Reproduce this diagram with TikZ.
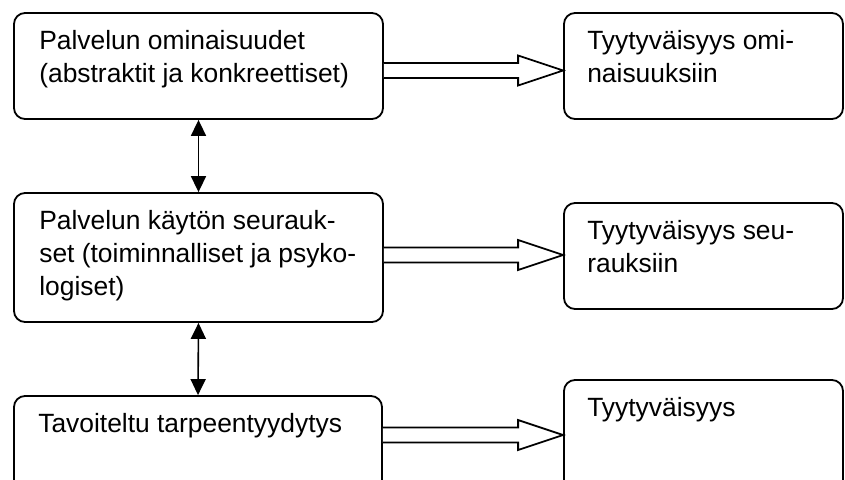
\documentclass[tikz,border=0pt]{standalone}
\usepackage{fontspec}
\setmainfont{Liberation Sans}
\usetikzlibrary{arrows.meta,calc}

\tikzset{
  box/.style={draw, line width=1.8pt, rounded corners=11pt, inner sep=0pt},
  txt/.style={anchor=north west, inner sep=0pt, align=left,
    font=\fontsize{26.4}{33}\selectfont},
  link/.style={line width=1.6pt, {Triangle[width=15pt,length=16pt]}-{Triangle[width=15pt,length=16pt]}},
  fat/.style={draw, line width=1.8pt, line join=miter, fill=white}
}
% hollow block arrow from a point on one box edge to a point on the other
\newcommand\fatarrow[2]{%
  \draw[fat] let \p1=(#1), \p2=(#2) in
    (\x1,\y1+7.5pt) -- (\x2-45pt,\y1+7.5pt) -- (\x2-45pt,\y1+15pt) --
    (\x2,\y1) -- (\x2-45pt,\y1-15pt) -- (\x2-45pt,\y1-7.5pt) -- (\x1,\y1-7.5pt);}
\newcommand\firstline{\rule{0pt}{37.5pt}}

\begin{document}
\begin{tikzpicture}[x=1pt, y=-1pt]
  \clip (0,0) rectangle (845,479);
  \fill[white] (0,0) rectangle (845,479);

  % left column
  \node[box, minimum width=369pt, minimum height=106pt] (b1) at (198.5,66) {};
  \node[box, minimum width=369pt, minimum height=129pt] (b2) at (198.5,257.5) {};
  \node[box, minimum width=368pt, minimum height=100pt] (b3) at (198,446) {};

  % right column
  \node[box, minimum width=279pt, minimum height=106pt] (b4) at (703.5,66) {};
  \node[box, minimum width=279pt, minimum height=106pt] (b5) at (703.5,256) {};
  \node[box, minimum width=279pt, minimum height=120pt] (b6) at (703.5,440) {};

  % texts
  \node[txt] (t1) at ($(b1.north west)+(26,0)$) {\firstline Palvelun ominaisuudet\\(abstraktit ja konkreettiset)};
  \node[txt] (t2) at ($(b2.north west)+(26,0)$) {\firstline Palvelun käytön seurauk-\\set (toiminnalliset ja psyko-\\logiset)};
  \node[txt] (t3) at ($(b3.north west)+(25,0)$) {\firstline Tavoiteltu tarpeentyydytys};
  \node[txt] (t4) at ($(b4.north west)+(24,0)$) {\firstline Tyytyväisyys omi-\\naisuuksiin};
  \node[txt] (t5) at ($(b5.north west)+(24,0)$) {\firstline Tyytyväisyys seu-\\rauksiin};
  \node[txt] (t6) at ($(b6.north west)+(24,0)$) {\firstline Tyytyväisyys};

  % vertical two-way links
  \draw[link] (b1.south) -- (b2.north);
  \draw[link] (b2.south) -- (b3.north);

  % block arrows
  \path (b1.east) ++(0,4.5) coordinate (s1);
  \path (b2.east) ++(0,-2.5) coordinate (s2);
  \path (b3.east) ++(0,-11) coordinate (s3);
  \coordinate (e1) at (b4.west |- s1);
  \coordinate (e2) at (b5.west |- s2);
  \coordinate (e3) at (b6.west |- s3);
  \fatarrow{s1}{e1}
  \fatarrow{s2}{e2}
  \fatarrow{s3}{e3}
\end{tikzpicture}
\end{document}
